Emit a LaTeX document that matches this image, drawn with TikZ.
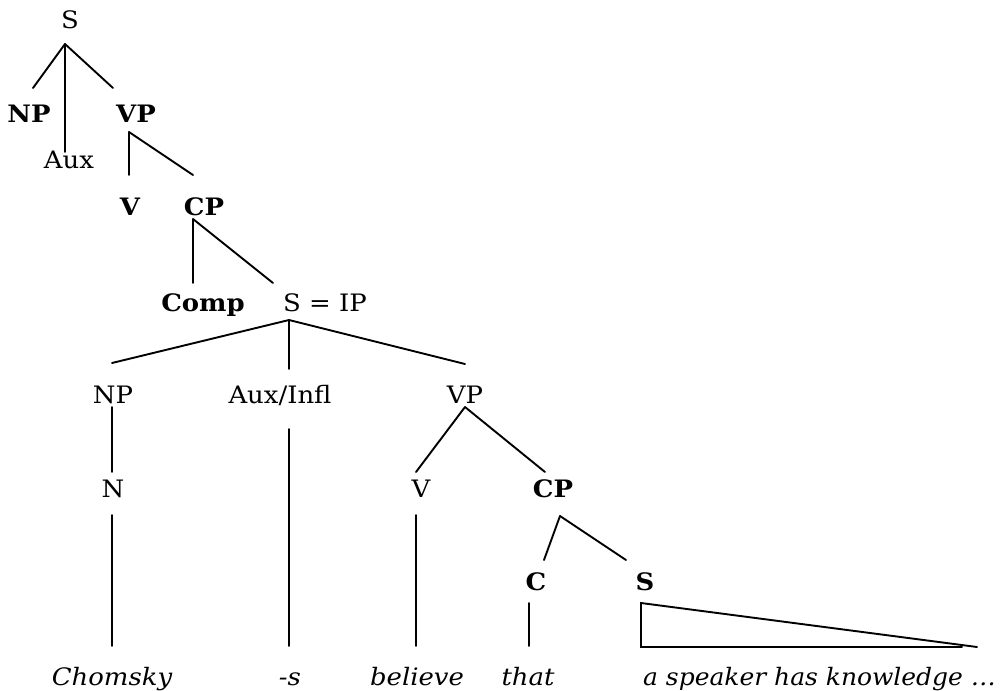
\documentclass[tikz,border=0pt]{standalone}
\usepackage{fontspec}
\setmainfont[FakeStretch=1.08]{DejaVu Serif}
\newfontfamily\wfont[FakeStretch=1.04]{DejaVu Serif}
\begin{document}
\begin{tikzpicture}[x=1pt,y=-1pt,
  lab/.style={anchor=base,inner sep=0pt,font=\fontsize{24}{27}\selectfont},
  blab/.style={lab,font=\fontsize{24}{27}\selectfont\bfseries},
  ilab/.style={lab,font=\fontsize{24}{27}\selectfont\itshape},
  wlab/.style={lab,font=\wfont\fontsize{24}{27}\selectfont\itshape},
  br/.style={line width=1.9pt,line cap=round}]
\useasboundingbox (0,0) rectangle (1005,691);
% labels
\node[lab]  (S)     at (70,28)  {S};
\node[blab] (NP1)   at (29,122) {NP};
\node[blab] (VP1)   at (136,122){VP};
\node[lab]  (Aux)   at (69,168) {Aux};
\node[blab] (V1)    at (130,215){V};
\node[blab] (CP1)   at (204,215){CP};
\node[blab] (Comp)  at (203,311){Comp};
\node[lab]  (SIP)   at (325,311){S = IP};
\node[lab]  (NP2)   at (113,403){NP};
\node[lab]  (AuxI)  at (280,403){Aux/Infl};
\node[lab]  (VP2)   at (465,403){VP};
\node[lab]  (N)     at (113,497){N};
\node[lab]  (V2)    at (421,497){V};
\node[blab] (CP2)   at (553,497){CP};
\node[blab] (C)     at (536,590){C};
\node[blab] (S2)    at (645,590){S};
\node[ilab] (w1)    at (112,685){Chomsky};
\node[ilab] (w2)    at (290,685){-s};
\node[ilab] (w3)    at (417,685){believe};
\node[ilab] (w4)    at (528,685){that};
\node[wlab,anchor=base west] (w5) at (643,685){a speaker has knowledge \ldots};
% coordinates
\coordinate (a1) at (65,44);
\coordinate (e1) at (33,88);
\coordinate (e2) at (65,152);
\coordinate (e3) at (113,88);
\coordinate (a2) at (129,132);
\coordinate (e4) at (129,175);
\coordinate (e5) at (193,175);
\coordinate (a3) at (193,219);
\coordinate (e6) at (193,283);
\coordinate (e7) at (273,283);
\coordinate (a4) at (289,320);
\coordinate (e8) at (112,363);
\coordinate (e9) at (289,369);
\coordinate (e10) at (465,364);
\coordinate (n1) at (112,407);
\coordinate (n2) at (112,472);
\coordinate (n3) at (112,515);
\coordinate (n4) at (112,646);
\coordinate (i1) at (289,429);
\coordinate (i2) at (289,646);
\coordinate (a5) at (465,407);
\coordinate (e11) at (416,472);
\coordinate (e12) at (545,472);
\coordinate (v1) at (416,515);
\coordinate (v2) at (416,646);
\coordinate (a6) at (560,516);
\coordinate (e13) at (544,560);
\coordinate (e14) at (626,560);
\coordinate (c1) at (529,603);
\coordinate (c2) at (529,646);
\coordinate (t1) at (641,603);
\coordinate (t2) at (641,647);
\coordinate (t3) at (962,647);
\coordinate (t4) at (977,647);
% branches
\draw[br] (a1) -- (e1);
\draw[br] (a1) -- (e2);
\draw[br] (a1) -- (e3);
\draw[br] (a2) -- (e4);
\draw[br] (a2) -- (e5);
\draw[br] (a3) -- (e6);
\draw[br] (a3) -- (e7);
\draw[br] (a4) -- (e8);
\draw[br] (a4) -- (e9);
\draw[br] (a4) -- (e10);
\draw[br] (n1) -- (n2);
\draw[br] (n3) -- (n4);
\draw[br] (i1) -- (i2);
\draw[br] (a5) -- (e11);
\draw[br] (a5) -- (e12);
\draw[br] (v1) -- (v2);
\draw[br] (a6) -- (e13);
\draw[br] (a6) -- (e14);
\draw[br] (c1) -- (c2);
\draw[br] (t3) -- (t2) -- (t1) -- (t4);
\end{tikzpicture}
\end{document}
